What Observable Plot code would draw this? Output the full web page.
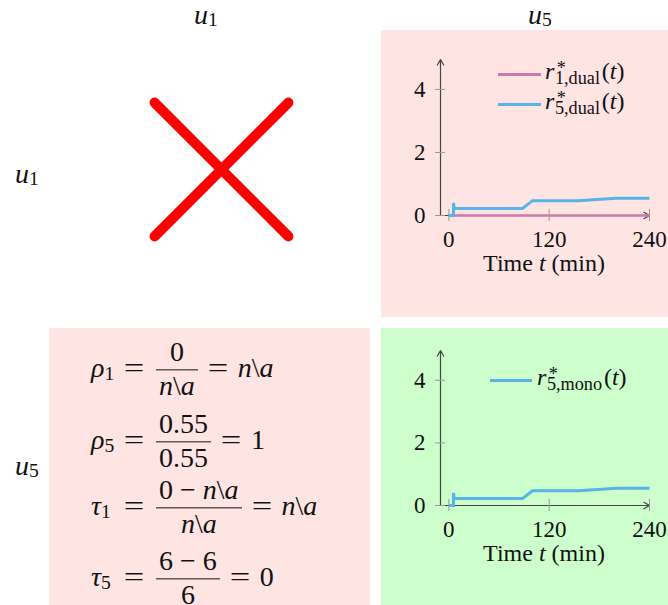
<!DOCTYPE html>
<html>
<head>
<meta charset="utf-8">
<script src="https://cdn.jsdelivr.net/npm/d3@7"></script>
<script src="https://cdn.jsdelivr.net/npm/@observablehq/plot@0.6"></script>
<style>
html, body { margin: 0; padding: 0; background: #fff; overflow: hidden; }
#fig { position: relative; width: 668px; height: 605px; overflow: hidden; font-family: "Liberation Serif", serif; color: #111; }
.abs { position: absolute; white-space: nowrap; line-height: 1; }
.panel { position: absolute; }
.sub { font-size: 0.7em; vertical-align: -0.15em; line-height: 0; }
.sc { position: relative; font-size: 0.76em; vertical-align: -0.28em; line-height: 0; margin-left: 0.03em; margin-right: 0.1em; }
.st { position: absolute; left: 0.1em; top: -0.52em; line-height: 1; }
.eq { position: absolute; display: flex; align-items: center; transform: translateY(-50%); font-size: 28px; line-height: 1; white-space: nowrap; }
.eq .lhs { width: 31px; position: relative; top: -1.5px; }
.eq .rel { width: 24px; text-align: center; position: relative; top: -1.5px; transform: scaleX(1.3); }
.eq .frac { display: inline-flex; flex-direction: column; align-items: center; margin-left: 10px; margin-right: 8px; }
.eq .num { line-height: 35px; height: 35px; padding: 0 3px; }
.eq .den { line-height: 31px; height: 24px; margin-bottom: 11px; padding: 0 3px; overflow: visible; }
.eq .bar { align-self: stretch; height: 1.3px; background: #111; }
.eq .rhs { margin-left: 8px; position: relative; top: -1.5px; }
.swatch { position: absolute; height: 3px; }
</style>
</head>
<body>
<div id="fig"></div>
<script>
// ---------------- data ----------------
const colLabels = ["1", "5"];          // u_1, u_5 (columns)
const rowLabels = ["1", "5"];          // u_1, u_5 (rows)
const crossCells = [{row: "u1", col: "u1"}];

const timeMin = [0, 5.5, 5.5, 6.5, 88, 100, 155, 200, 240];
const r5Dual  = [0, 0, 0.4, 0.22, 0.22, 0.47, 0.47, 0.55, 0.55];
const r5Mono  = [0, 0, 0.4, 0.22, 0.22, 0.47, 0.47, 0.55, 0.55];
const r1Time  = [0, 240];
const r1Dual  = [0, 0];

const xTicks = [0, 120, 240];
const yTicks = [0, 2, 4];
const xDomain = [-10, 240];
const yDomain = [0, 4.95];

const eqSymbols      = ["ρ", "ρ", "τ", "τ"];
const eqIndices      = ["1", "5", "1", "5"];
const eqNumerators   = ["0", "0.55", "0 − n\\a", "6 − 6"];
const eqDenominators = ["n\\a", "0.55", "n\\a", "6"];
const eqResults      = ["n\\a", "1", "n\\a", "0"];

const colors = {r1: "#CC79A7", r5: "#56B4E9", pink: "#ffe4e4", green: "#ccffcc", cross: "#ff0000"};

// ---------------- helpers ----------------
const fig = document.getElementById("fig");
function math(s) {
  return s.replace(/\\/g, "&#92;").replace(/([A-Za-z])/g, "<i>$1</i>");
}
function place(html, {left, baseline, size, center = false}) {
  const el = document.createElement("div");
  el.className = "abs";
  el.style.fontSize = size + "px";
  el.style.left = left + "px";
  el.style.top = (baseline - 0.8375 * size) + "px";
  if (center) el.style.transform = "translateX(-50%)";
  el.innerHTML = html;
  fig.appendChild(el);
  return el;
}
function panel(left, top, width, height, bg) {
  const el = document.createElement("div");
  el.className = "panel";
  Object.assign(el.style, {left: left + "px", top: top + "px", width: width + "px", height: height + "px", background: bg});
  fig.appendChild(el);
  return el;
}
function series(t, v) { return t.map((d, i) => ({t: d, v: v[i]})); }

// ---------------- panels ----------------
panel(381, 30, 287, 287, colors.pink);
panel(49, 328, 321, 277, colors.pink);
panel(381, 328, 287, 277, colors.green);

// ---------------- row / column labels ----------------
const colPos = [194, 528];
colLabels.forEach((c, i) => place(`<i>u</i><span class="sub" style="vertical-align:-0.1em">${c}</span>`, {left: colPos[i], baseline: 24, size: 28}));
const rowBase = [183, 475];
rowLabels.forEach((r, i) => place(`<i>u</i><span class="sub" style="vertical-align:-0.1em">${r}</span>`, {left: 15, baseline: rowBase[i], size: 28}));

// ---------------- cross in (u1,u1) ----------------
const crossPlot = Plot.plot({
  width: 200, height: 200, margin: 0,
  style: {background: "transparent", overflow: "visible"},
  x: {axis: null}, y: {axis: null},
  marks: [
    Plot.dot(crossCells, {x: "col", y: "row", symbol: "times", r: 61, stroke: colors.cross, strokeWidth: 10, strokeLinecap: "round", fill: "none"})
  ]
});
Object.assign(crossPlot.style, {position: "absolute", left: "121px", top: "69px"});
fig.appendChild(crossPlot);

// ---------------- line charts ----------------
function lineChart({lines, height, marginTop, marginBottom}) {
  return Plot.plot({
    width: 287, height, marginLeft: 59, marginRight: 19, marginTop, marginBottom,
    style: {background: "transparent", fontFamily: "'Liberation Serif', serif", fontSize: "23px", color: "#111", overflow: "visible"},
    x: {domain: xDomain},
    y: {domain: yDomain},
    marks: [
      Plot.arrow([xDomain], {x1: d => d[0], x2: d => d[1], y1: () => yDomain[0], y2: () => yDomain[0], stroke: "#444", strokeWidth: 1.2, headLength: 8}),
      Plot.arrow([yDomain], {x1: () => xDomain[0], x2: () => xDomain[0], y1: d => d[0], y2: d => d[1], stroke: "#444", strokeWidth: 1.2, headLength: 8}),
      Plot.ruleX(xTicks, {x: d => d, y1: () => yDomain[0], y2: () => yDomain[0], insetTop: -6, insetBottom: -6, stroke: "#999", strokeWidth: 1}),
      Plot.ruleY(yTicks, {y: d => d, x1: () => xDomain[0], x2: () => xDomain[0], insetLeft: -5, insetRight: -5, stroke: "#999", strokeWidth: 1}),
      Plot.axisX({ticks: xTicks, tickSize: 0, tickPadding: 15, label: null, tickFormat: d => String(d)}),
      Plot.axisY({ticks: yTicks, tickSize: 0, tickPadding: 15, label: null, tickFormat: d => String(d)}),
      ...lines.map(l => Plot.line(l.data, {x: "t", y: "v", stroke: l.color, strokeWidth: l.width, strokeLinejoin: "miter", strokeMiterlimit: 8, strokeLinecap: "butt"}))
    ]
  });
}

const topChart = lineChart({
  height: 287, marginTop: 29, marginBottom: 102,
  lines: [
    {data: series(r1Time, r1Dual), color: colors.r1, width: 2.5},
    {data: series(timeMin, r5Dual), color: colors.r5, width: 3}
  ]
});
Object.assign(topChart.style, {position: "absolute", left: "381px", top: "30px"});
fig.appendChild(topChart);

const bottomChart = lineChart({
  height: 277, marginTop: 22, marginBottom: 100,
  lines: [
    {data: series(timeMin, r5Mono), color: colors.r5, width: 3}
  ]
});
Object.assign(bottomChart.style, {position: "absolute", left: "381px", top: "328px"});
fig.appendChild(bottomChart);

// axis titles
place(`Time <i>t</i> (min)`, {left: 544, baseline: 271, size: 24, center: true});
place(`Time <i>t</i> (min)`, {left: 544, baseline: 561, size: 24, center: true});

// legends
function legend(color, x1, x2, y, textLeft, baseline, idx, kind) {
  const s = document.createElement("div");
  s.className = "swatch";
  Object.assign(s.style, {left: x1 + "px", width: (x2 - x1) + "px", top: (y - 1.5) + "px", background: color});
  fig.appendChild(s);
  place(`<i>r</i><span class="sc">${idx},${kind}<span class="st">*</span></span>(<i>t</i>)`, {left: textLeft, baseline, size: 24});
}
legend(colors.r1, 498, 541, 74.3, 545, 79.5, "1", "dual");
legend(colors.r5, 498, 541, 104, 545, 109, "5", "dual");
legend(colors.r5, 490, 532, 380, 537, 385, "5", "mono");

// ---------------- equations ----------------
const barY = [369.5, 442, 508, 579];
eqSymbols.forEach((sym, i) => {
  const el = document.createElement("div");
  el.className = "eq";
  el.style.left = "91px";
  el.style.top = barY[i] + "px";
  el.innerHTML =
    `<span class="lhs"><i>${sym}</i><span class="sub">${eqIndices[i]}</span></span>` +
    `<span class="rel">=</span>` +
    `<span class="frac"><span class="num">${math(eqNumerators[i])}</span><span class="bar"></span><span class="den">${math(eqDenominators[i])}</span></span>` +
    `<span class="rel">=</span>` +
    `<span class="rhs">${math(eqResults[i])}</span>`;
  fig.appendChild(el);
});
</script>
</body>
</html>
